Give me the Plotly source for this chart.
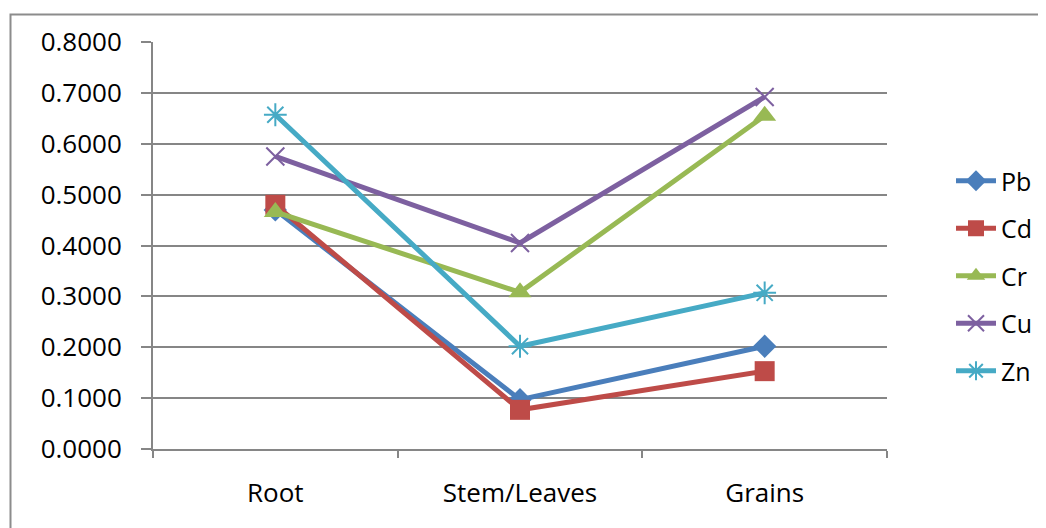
import plotly.graph_objects as go

categories = ["Root", "Stem/Leaves", "Grains"]
pb = [0.470, 0.097, 0.202]
cd = [0.480, 0.077, 0.153]
cr = [0.466, 0.308, 0.655]
cu = [0.575, 0.405, 0.692]
zn = [0.657, 0.202, 0.307]
y_ticks = [0.0, 0.1, 0.2, 0.3, 0.4, 0.5, 0.6, 0.7, 0.8]

series = [
    ("Pb", pb, "#4A7EBB", dict(symbol="diamond", size=18)),
    ("Cd", cd, "#BE4B48", dict(symbol="square", size=20)),
    ("Cr", cr, "#98B954", dict(symbol="triangle-up", size=20)),
    ("Cu", cu, "#7D60A0", dict(symbol="x-thin-open", size=18, line=dict(width=2))),
    ("Zn", zn, "#46AAC5", dict(symbol="asterisk-open", size=19, line=dict(width=2))),
]

FONT = "Open Sans"
# page body has an 8px margin; plot area target in window: x 153-887, y 42-449
OFF = 8
L, T, PW, PH = 153 - OFF, 42 - OFF, 734, 407
W, H = 1046, 528

fig = go.Figure()
for name, vals, color, mk in series:
    m = dict(color=color, **mk)
    if "line" in m:
        m["line"]["color"] = color
    fig.add_trace(go.Scatter(
        x=categories, y=vals, name=name, mode="lines+markers",
        line=dict(color=color, width=5), marker=m, legendgroup=name,
    ))

def px_x(wx):
    return (wx - OFF - L) / PW

def px_y(wy):
    return (T + PH - (wy - OFF)) / PH

fig.update_layout(
    width=W, height=H,
    margin=dict(l=L, r=W - L - PW, t=T, b=H - T - PH, autoexpand=False),
    paper_bgcolor="white", plot_bgcolor="white",
    font=dict(family=FONT, size=26, color="black"),
    showlegend=True,
    legend=dict(x=px_x(951), y=px_y(276), xanchor="left", yanchor="middle",
                font=dict(size=25), tracegroupgap=12, itemwidth=40,
                bgcolor="rgba(0,0,0,0)"),
    xaxis=dict(
        type="category", range=[-0.5, 2.5],
        showgrid=False, showline=True, linecolor="#868686", linewidth=2,
        ticks="outside", tickson="boundaries", ticklen=7, tickcolor="#868686", tickwidth=2,
        tickfont=dict(size=26), ticklabelstandoff=20,
    ),
    yaxis=dict(
        range=[0, 0.8], tickvals=y_ticks, tickformat=".4f",
        showgrid=True, gridcolor="#868686", gridwidth=1.5,
        showline=True, linecolor="#868686", linewidth=2,
        ticks="outside", ticklen=10, tickcolor="#868686", tickwidth=2,
        tickfont=dict(size=26), ticklabelstandoff=14, zeroline=False,
    ),
)

fig.add_shape(type="rect", xref="paper", yref="paper",
              x0=px_x(10.5), x1=px_x(1070),
              y0=px_y(560), y1=px_y(14.5),
              line=dict(color="#8C8C8C", width=2), fillcolor="rgba(0,0,0,0)", layer="below")

fig.write_html("out.html")
